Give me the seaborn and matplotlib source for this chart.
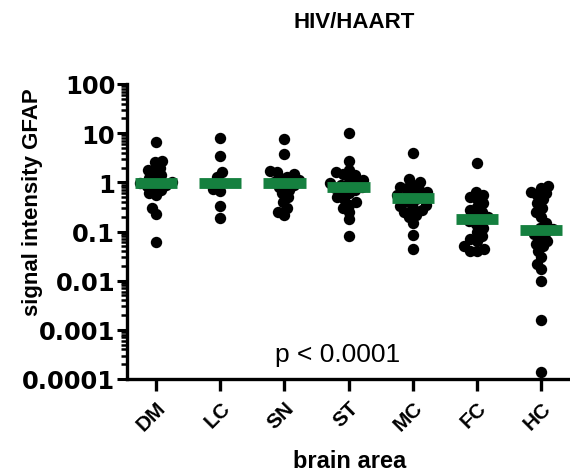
import numpy as np
import pandas as pd
import matplotlib
matplotlib.use("Agg")
import matplotlib.pyplot as plt
import matplotlib.ticker as mticker
import seaborn as sns

categories = ["DM", "LC", "SN", "ST", "MC", "FC", "HC"]
DM = [6.5, 2.7, 2.6, 2.0, 1.8, 1.6, 1.4, 1.2, 1.1, 1.0, 0.95, 0.9, 0.85, 0.8, 0.7, 0.6, 0.55, 0.3, 0.23, 0.06]
LC = [7.8, 3.4, 1.6, 1.26, 0.95, 0.72, 0.66, 0.33, 0.19]
SN = [7.5, 3.7, 1.7, 1.6, 1.5, 1.3, 1.2, 1.1, 1.0, 0.95, 0.9, 0.8, 0.7, 0.6, 0.5, 0.4, 0.3, 0.25, 0.22]
ST = [10, 2.7, 1.8, 1.6, 1.5, 1.4, 1.2, 1.1, 1.0, 0.95, 0.9, 0.85, 0.8, 0.75, 0.7, 0.65, 0.6, 0.5,
      0.45, 0.4, 0.35, 0.3, 0.25, 0.18, 0.08]
MC = [3.9, 1.15, 1.0, 0.9, 0.8, 0.75, 0.7, 0.65, 0.6, 0.55, 0.5, 0.5, 0.45, 0.4, 0.35, 0.33, 0.3,
      0.27, 0.25, 0.22, 0.2, 0.15, 0.083, 0.044]
FC = [2.5, 0.65, 0.55, 0.5, 0.45, 0.38, 0.32, 0.28, 0.25, 0.22, 0.2, 0.18, 0.16, 0.14, 0.12, 0.1,
      0.08, 0.07, 0.063, 0.05, 0.045, 0.04, 0.04]
HC = [0.85, 0.75, 0.65, 0.6, 0.55, 0.45, 0.38, 0.3, 0.25, 0.2, 0.15, 0.12, 0.11, 0.1, 0.09, 0.08,
      0.065, 0.055, 0.05, 0.04, 0.03, 0.022, 0.017, 0.01, 0.0016, 0.00014]
ytick_values = [100, 10, 1, 0.1, 0.01, 0.001, 0.0001]
ytick_labels = ["100", "10", "1", "0.1", "0.01", "0.001", "0.0001"]

groups = [DM, LC, SN, ST, MC, FC, HC]
df = pd.DataFrame({
    "area": np.concatenate([[c] * len(g) for c, g in zip(categories, groups)]),
    "value": np.concatenate(groups),
})

sns.set_style("ticks")
plt.rcParams["font.family"] = ["Liberation Sans", "DejaVu Sans"]
for k in ["text.color", "axes.labelcolor", "xtick.color", "ytick.color", "axes.edgecolor"]:
    plt.rcParams[k] = "black"

fig = plt.figure(figsize=(5.7, 4.77), dpi=100)
ax = fig.add_axes([127 / 570, 97 / 477, 441 / 570, 295 / 477])
ax.set_yscale("log")
ax.set_xlim(-0.453, 6.42)
ax.set_ylim(1e-4, 100)

# swarm laid out with small markers so dots overlap like the original
sns.swarmplot(data=df, x="area", y="value", order=categories, color="black",
              size=5.0, ax=ax, zorder=3)
swarm_colls = list(ax.collections)
ax.set_xlim(-0.453, 6.42)
ax.set_ylim(1e-4, 100)
fig.canvas.draw()
for c in swarm_colls:
    if "draw" in c.__dict__:
        del c.draw
    c.set_sizes([8.2 ** 2])

sns.boxplot(data=df, x="area", y="value", order=categories, ax=ax, width=0.66,
            showbox=False, showcaps=False, showfliers=False, whis=0,
            whiskerprops={"visible": False},
            medianprops={"color": "#15803f", "linewidth": 7.8, "zorder": 5,
                         "solid_capstyle": "butt"})

ax.set_xlim(-0.453, 6.42)
ax.set_ylim(1e-4, 100)
ax.yaxis.set_major_locator(mticker.FixedLocator(ytick_values))
ax.yaxis.set_major_formatter(mticker.FixedFormatter(ytick_labels))
ax.yaxis.set_minor_locator(mticker.LogLocator(base=10, subs=np.arange(2, 10), numticks=100))
ax.yaxis.set_minor_formatter(mticker.NullFormatter())

for s in ["top", "right"]:
    ax.spines[s].set_visible(False)
for s in ["left", "bottom"]:
    ax.spines[s].set_linewidth(2.4)

ax.tick_params(axis="y", which="major", length=7.5, width=2.2, pad=1)
ax.tick_params(axis="y", which="minor", length=4.5, width=1.8)
ax.tick_params(axis="x", which="major", length=8.5, width=2.4, pad=5)
for lab in ax.get_yticklabels():
    lab.set_fontweight("bold")
    lab.set_fontfamily("DejaVu Sans")
    lab.set_fontsize(17.5)
for lab in ax.get_xticklabels():
    lab.set_fontweight("bold")
    lab.set_fontsize(15)
    lab.set_rotation(45)
    lab.set_ha("right")
    lab.set_rotation_mode("anchor")

ax.set_xlabel("brain area", fontsize=17, fontweight="bold")
ax.xaxis.set_label_coords((350 - 127) / 441, -0.238)
ax.set_ylabel("signal intensity GFAP", fontsize=16, fontweight="bold")
ax.yaxis.set_label_coords(-0.19, 0.603)
fig.text(354 / 570, 1 - 22 / 477, "HIV/HAART", ha="center", va="center",
         fontsize=16, fontweight="bold")
ax.text(0.478, 0.085, "p < 0.0001", transform=ax.transAxes, ha="center", va="center",
        fontsize=19)

fig.savefig("out.png", dpi=100)
